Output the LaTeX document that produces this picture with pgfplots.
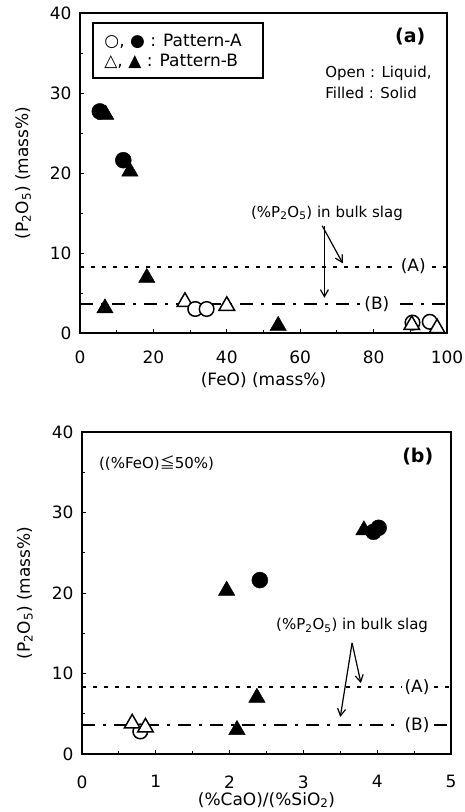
\documentclass[border=0pt]{standalone}
\usepackage{pgfplots}
\pgfplotsset{compat=1.18}
\usetikzlibrary{arrows.meta}
\usepackage{fontspec}
\setmainfont{DejaVu Sans}
\newfontfamily\cjk{Noto Sans CJK JP}

\newcommand{\fs}[1]{\fontsize{#1}{#1}\selectfont}

\tikzset{barb/.style={black, line width=1.2pt, -{Straight Barb[length=7pt,width=8pt]}}}

\pgfplotsset{
  slag/.style={
    scale only axis,
    clip=false,
    axis line style={line width=2.2pt},
    tick align=inside,
    tick pos=left,
    major tick length=4pt,
    minor tick length=3pt,
    every tick/.style={line width=0.9pt, black},
    minor y tick num=1,
    minor x tick num=1,
    ymin=0, ymax=40, ytick={0,10,20,30,40},
    tick label style={font=\fs{17}},
    yticklabel style={xshift=-5pt},
    /pgf/number format/assume math mode=true,
    label style={font=\fs{17}},
    ylabel={(P\textsubscript{2}O\textsubscript{5}) (mass\%)},
    ylabel style={at={(axis description cs:-0.155,0.5)}, anchor=center},
  },
  filledcirc/.style={only marks, mark=*, mark size=8pt, mark options={fill=black, draw=black}},
  opencirc/.style={only marks, mark=*, mark size=7.3pt, mark options={fill=white, draw=black, line width=1.5pt}},
  filledtri/.style={only marks, mark=triangle*, mark size=9.5pt, mark options={fill=black, draw=black}},
  opentri/.style={only marks, mark=triangle*, mark size=9pt, mark options={fill=white, draw=black, line width=1.5pt}},
  lineA/.style={black, line width=2pt, dash pattern=on 4pt off 7pt},
  lineB/.style={black, line width=2pt, dash pattern=on 13pt off 8pt on 3pt off 8pt},
}

\begin{document}
\begin{tikzpicture}
\useasboundingbox (0pt,0pt) rectangle (465pt,812pt);

% ---------------- (a) P2O5 against FeO ----------------
\begin{axis}[slag,
  at={(80pt,479pt)}, anchor=south west,
  width=367pt, height=320pt,
  xmin=0, xmax=100, xtick={0,20,40,60,80,100},
  xlabel={(FeO) (mass\%)},
  xticklabel style={yshift=-14pt},
  xlabel style={at={(axis description cs:0.5,0)}, anchor=center, yshift=-47pt},
]
\addplot[lineA] coordinates {(0,8.3) (100,8.3)};
\addplot[lineB] coordinates {(0,3.6) (100,3.6)};
\node[fill=white, inner sep=3pt, font=\fs{17}] at (axis cs:90.8,8.3) {(A)};
\node[fill=white, inner sep=3pt, font=\fs{17}] at (axis cs:80.9,3.6) {(B)};

% liquid
\addplot[opentri] coordinates {(28.6,3.9) (40.0,3.4)};
\addplot[opencirc] coordinates {(31.4,3.0) (34.5,3.0) (90.6,1.3) (95.3,1.4)};
\addplot[opentri] coordinates {(90.4,1.0) (97.3,0.6)};
% solid
\addplot[filledtri] coordinates {(7.0,27.3) (13.6,20.2) (6.8,3.1) (18.2,6.9) (54.0,0.9)};
\addplot[filledcirc] coordinates {(5.4,27.7) (11.8,21.6)};

% bulk slag annotation
\node[font=\fs{15}] at (axis cs:67.3,15) {(\%P\textsubscript{2}O\textsubscript{5}) in bulk slag};
\draw[barb] (axis cs:66.0,13.4) -- (axis cs:71.6,8.7);
\draw[barb] (axis cs:66.6,13.4) -- (axis cs:66.6,4.4);

% key
\draw[line width=2pt] (axis cs:3.5,31.9) rectangle (axis cs:49.9,38.75);
\node[anchor=west, font=\fs{17}, inner sep=0pt] at (axis cs:6.6,36.4) {○, ● : Pattern-A};
\node[anchor=west, font=\fs{17}, inner sep=0pt] at (axis cs:6.6,33.9) {△, ▲ : Pattern-B};

\node[font=\bfseries\fs{19}] at (axis cs:90,37) {(a)};
\node[anchor=west, font=\fs{15}, inner sep=0pt] at (axis cs:66.8,32.5) {Open : Liquid,};
\node[anchor=west, font=\fs{15}, inner sep=0pt] at (axis cs:66.8,30.0) {Filled : Solid};
\end{axis}

% ---------------- (b) P2O5 against basicity ----------------
\begin{axis}[slag,
  at={(82pt,58pt)}, anchor=south west,
  width=369pt, height=322pt,
  xmin=0, xmax=5, xtick={0,1,2,3,4,5},
  xlabel={(\%CaO)/(\%SiO\textsubscript{2})},
  xticklabel style={yshift=-18pt},
  xlabel style={at={(axis description cs:0.5,0)}, anchor=center, yshift=-46pt},
]
\addplot[lineA] coordinates {(0,8.3) (5,8.3)};
\addplot[lineB] coordinates {(0,3.6) (5,3.6)};
\node[fill=white, inner sep=3pt, font=\fs{17}] at (axis cs:4.54,8.3) {(A)};
\node[fill=white, inner sep=3pt, font=\fs{17}] at (axis cs:4.54,3.6) {(B)};

% liquid
\addplot[opencirc] coordinates {(0.79,2.8)};
\addplot[opentri] coordinates {(0.68,3.8) (0.86,3.3)};
% solid
\addplot[filledtri] coordinates {(3.82,27.8) (1.96,20.3) (2.37,7.0) (2.10,3.0)};
\addplot[filledcirc] coordinates {(3.95,27.6) (4.02,28.1) (2.41,21.6)};

\node[font=\fs{15}] at (axis cs:3.66,16) {(\%P\textsubscript{2}O\textsubscript{5}) in bulk slag};
\draw[barb] (axis cs:3.66,13.8) -- (axis cs:3.78,8.8);
\draw[barb] (axis cs:3.66,13.8) -- (axis cs:3.50,4.6);

\node[font=\fs{15}] at (axis cs:1.01,36.1) {((\%FeO){\cjk ≦}50\%)};
\node[font=\bfseries\fs{19}] at (axis cs:4.55,36.9) {(b)};
\end{axis}
\end{tikzpicture}
\end{document}
